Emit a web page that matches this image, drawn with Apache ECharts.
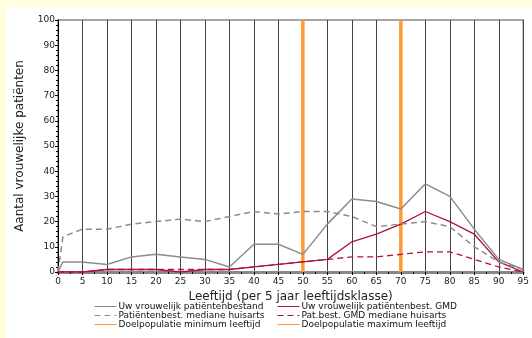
<!DOCTYPE html>
<html><head><meta charset="utf-8">
<script src="https://cdn.jsdelivr.net/npm/echarts@6/dist/echarts.min.js"></script>
<style>html,body{margin:0;padding:0;background:#FFFFE0}#c{width:532px;height:338px}</style>
</head><body><div id="c"></div>
<script>
const ages = [0, 1, 5, 10, 15, 20, 25, 30, 35, 40, 45, 50, 55, 60, 65, 70, 75, 80, 85, 90, 95];
const uwBestand   = [0, 4, 4, 3, 6, 7, 6, 5, 2, 11, 11, 7, 19, 29, 28, 25, 35, 30, 17, 5, 1];
const mediaan     = [0, 14, 17, 17, 19, 20, 21, 20, 22, 24, 23, 24, 24, 22, 18, 19, 20, 18, 10, 4, 1];
const uwGMD       = [0, 0, 0, 1, 1, 1, 0, 1, 1, 2, 3, 4, 5, 12, 15, 19, 24, 20, 15, 4, 0];
const mediaanGMD  = [0, 0, 0, 1, 1, 1, 1, 1, 1, 2, 3, 4, 5, 6, 6, 7, 8, 8, 5, 2, 0];
const minAge = 50, maxAge = 70;
const xTicks = [0, 95, 5];
const yTicks = [0, 100, 10];

const pairs = v => ages.map((a, i) => [a, v[i]]);
const vline = a => [[a, yTicks[0]], [a, yTicks[1]]];

const names = ['Uw vrouwelijk patiëntenbestand', 'Uw vrouwelijk patiëntenbest. GMD',
  'Patiëntenbest. mediane huisarts', 'Pat.best. GMD mediane huisarts',
  'Doelpopulatie minimum leeftijd', 'Doelpopulatie maximum leeftijd'];

const font = 'DejaVu Sans';
const chart = echarts.init(document.getElementById('c'), null, {renderer: 'canvas'});
const lineSer = (name, data, color, type, width) => ({
  name, type: 'line', data, showSymbol: false, symbol: 'none', animation: false,
  lineStyle: {color, type, width}, itemStyle: {color}, z: 3
});
const legendBase = {
  orient: 'vertical', top: 297, height: 40, itemWidth: 22, itemHeight: 8, itemGap: 0,
  textStyle: {fontFamily: font, fontSize: 9, color: '#111', padding: [0, 0, 0, -3]},
  lineStyle: {width: 1}, itemStyle: {opacity: 0}
};
chart.setOption({
  animation: false,
  backgroundColor: '#FFFFE0',
  graphic: [{type: 'rect', left: 6, top: 7, shape: {width: 526, height: 331}, style: {fill: '#fff'}, z: -10}],
  grid: {left: 58, right: 5, top: 20, bottom: 66, show: true, borderColor: '#888', borderWidth: 1.5, backgroundColor: 'transparent'},
  legend: [
    Object.assign({}, legendBase, {left: 89, data: [names[0], names[2], names[4]]}),
    Object.assign({}, legendBase, {left: 272, data: [names[1], names[3], names[5]]})
  ],
  xAxis: {
    type: 'value', min: xTicks[0], max: xTicks[1], interval: xTicks[2],
    name: 'Leeftijd (per 5 jaar leeftijdsklasse)', nameLocation: 'middle', nameGap: 14,
    nameTextStyle: {fontFamily: font, fontSize: 12, color: '#222'},
    axisLine: {lineStyle: {color: '#888', width: 3}},
    axisTick: {show: true, length: 3, inside: false, lineStyle: {color: '#000'}},
    minorTick: {show: true, splitNumber: 2, length: 2, lineStyle: {color: '#000'}},
    axisLabel: {fontFamily: font, fontSize: 9, color: '#222', margin: 5},
    splitLine: {show: true, lineStyle: {color: '#444', width: 1}}
  },
  yAxis: {
    type: 'value', min: yTicks[0], max: yTicks[1], interval: yTicks[2],
    name: 'Aantal vrouwelijke patiënten', nameLocation: 'middle', nameGap: 32,
    nameTextStyle: {fontFamily: font, fontSize: 12, color: '#222'},
    axisLine: {show: true, lineStyle: {color: '#000', width: 1}},
    axisTick: {show: true, length: 3, lineStyle: {color: '#000'}},
    minorTick: {show: true, splitNumber: 5, length: 2, lineStyle: {color: '#000'}},
    axisLabel: {fontFamily: font, fontSize: 9, color: '#222', margin: 3},
    splitLine: {show: false}
  },
  series: [
    lineSer(names[0], pairs(uwBestand), '#8c8c8c', 'solid', 1.5),
    lineSer(names[1], pairs(uwGMD), '#b01040', 'solid', 1.3),
    lineSer(names[2], pairs(mediaan), '#8c8c8c', [6, 4], 1.5),
    lineSer(names[3], pairs(mediaanGMD), '#b01040', [6, 4], 1.3),
    Object.assign(lineSer(names[4], vline(minAge), '#FF9933', 'solid', 3.5), {z: 2}),
    Object.assign(lineSer(names[5], vline(maxAge), '#FF9933', 'solid', 3.5), {z: 2})
  ]
});
</script></body></html>
